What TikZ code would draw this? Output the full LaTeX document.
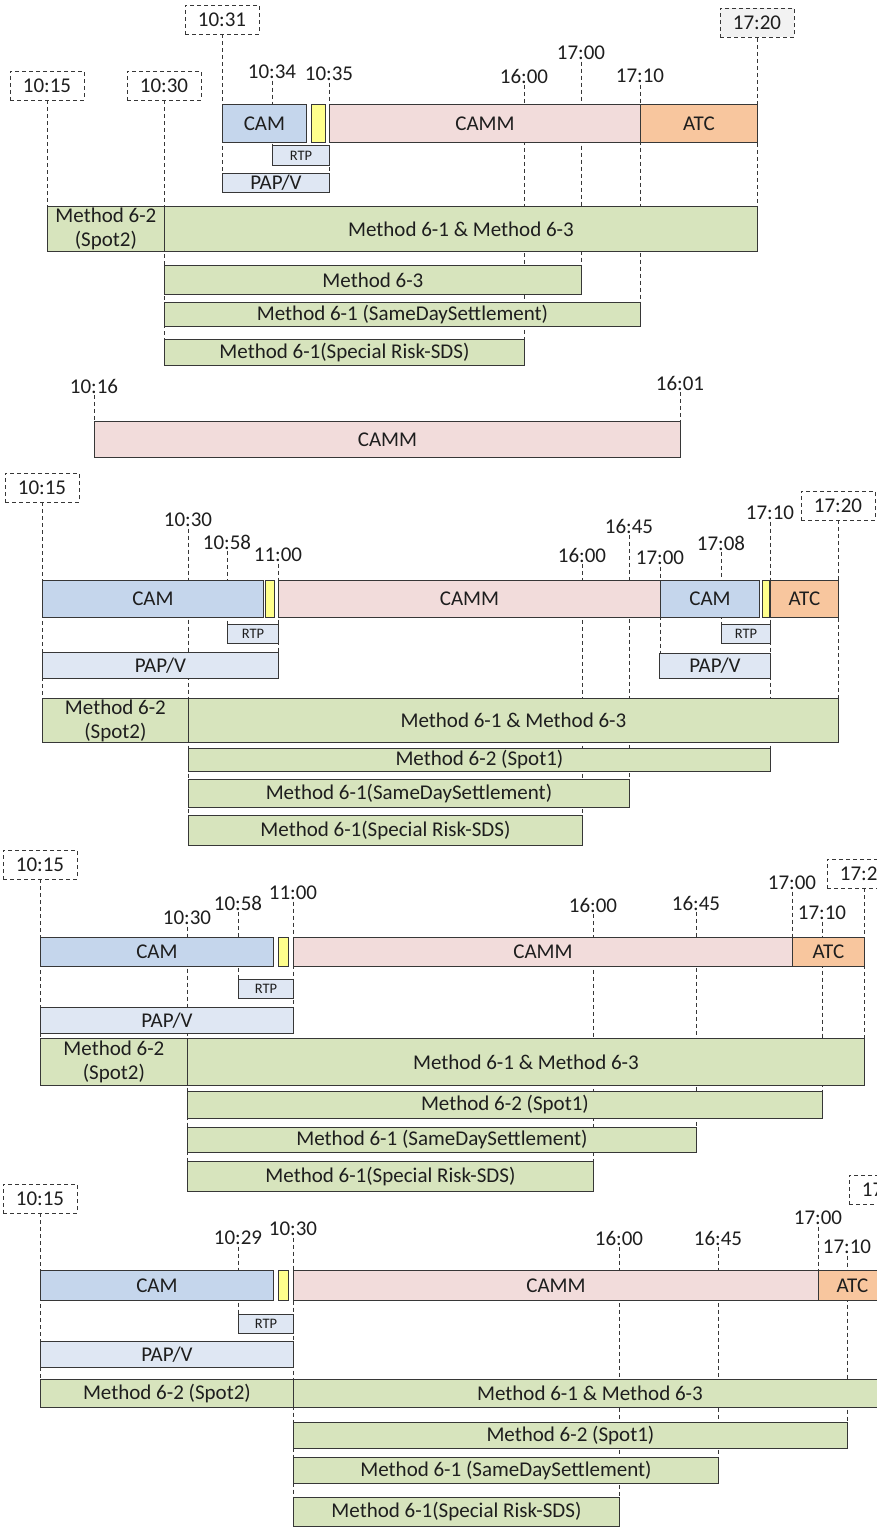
\documentclass[tikz,border=0pt]{standalone}
\usepackage{fontspec}
\setmainfont{Carlito}
\usetikzlibrary{positioning, backgrounds}

\definecolor{camblue}{RGB}{197, 214, 236}
\definecolor{cammpink}{RGB}{242, 220, 219}
\definecolor{atcorange}{RGB}{248, 198, 158}
\definecolor{gapyellow}{RGB}{255, 255, 140}
\definecolor{paplight}{RGB}{223, 231, 243}
\definecolor{methgreen}{RGB}{215, 228, 189}
\definecolor{edgegray}{RGB}{55, 55, 55}
\definecolor{txtgray}{RGB}{30, 30, 30}

\tikzset{
  blk/.style={draw=edgegray, line width=0.9pt, inner sep=0pt, anchor=north west,
    text=txtgray, font=\fontsize{21}{24}\selectfont, align=center},
  cambar/.style={blk, fill=camblue},
  cammbar/.style={blk, fill=cammpink},
  atcbar/.style={blk, fill=atcorange},
  ybox/.style={blk, fill=gapyellow},
  papbar/.style={blk, fill=paplight},
  rtpbar/.style={blk, fill=paplight, font=\fontsize{14.5}{16}\selectfont},
  metbar/.style={blk, fill=methgreen},
  tlbl/.style={text=txtgray, font=\fontsize{21}{24}\selectfont, inner sep=1.5pt},
  tbox/.style={draw=edgegray, dash pattern=on 4pt off 3pt, line width=0.8pt, inner sep=0pt,
    minimum width=74, minimum height=29, text=txtgray, font=\fontsize{21}{24}\selectfont},
  vline/.style={draw=edgegray, dash pattern=on 4pt off 3pt, line width=0.8pt},
}

\begin{document}
\begin{tikzpicture}[x=1pt, y=-1pt]
  \useasboundingbox (0,0) rectangle (877,1530);
  \clip (0,0) rectangle (877,1530);

  % Schedule 1
  \node[tbox] (b1015A) at (47,85.5) {10:15};
  \node[tbox] (b1030A) at (164,85.5) {10:30};
  \node[tbox] (b1031A) at (222,19.5) {10:31};
  \node[tbox, fill=black!5] (b1720A) at (757,23) {17:20};
  \node[tlbl] (l1034A) at (272,72) {10:34};
  \node[tlbl] (l1035A) at (329,74) {10:35};
  \node[tlbl] (l1600A) at (524,76) {16:00};
  \node[tlbl] (l1700A) at (581,53) {17:00};
  \node[tlbl] (l1710A) at (640,76) {17:10};

  \node[cambar, minimum width=84, minimum height=38] (camA) at (222,104) {CAM};
  \node[ybox, minimum width=14, minimum height=38] (ylwA) at (311,104) {};
  \node[cammbar, minimum width=311, minimum height=38] (cammA) at (329,104) {CAMM};
  \node[atcbar, minimum width=117, minimum height=38] (atcA) at (640,104) {ATC};
  \node[rtpbar, minimum width=57, minimum height=20] (rtpA) at (272,145) {RTP};
  \node[papbar, minimum width=107, minimum height=19] (papA) at (222,173) {PAP/V};
  \node[metbar, minimum width=117, minimum height=45] (spot2A) at (47,206) {Method 6-2\\(Spot2)};
  \node[metbar, minimum width=593, minimum height=45] (m613A) at (164,206) {Method 6-1 \& Method 6-3};
  \node[metbar, minimum width=417, minimum height=29] (m63A) at (164,265) {Method 6-3};
  \node[metbar, minimum width=476, minimum height=24] (sdsetA) at (164,302) {Method 6-1 (SameDaySettlement)};
  \node[metbar, minimum width=360, minimum height=26] (srA) at (164,339) {Method 6-1(Special Risk-SDS)};

  % CAMM on its own
  \node[tlbl] (l1016X) at (94,386) {10:16};
  \node[tlbl] (l1601X) at (680,383) {16:01};
  \node[cammbar, minimum width=586, minimum height=36] (cammX) at (94,421) {CAMM};

  % Schedule 2
  \node[tbox] (b1015B) at (42,487.5) {10:15};
  \node[tbox] (b1720B) at (838,505.5) {17:20};
  \node[tlbl] (l1030B) at (188,520) {10:30};
  \node[tlbl] (l1058B) at (227,542) {10:58};
  \node[tlbl] (l1100B) at (278,555) {11:00};
  \node[tlbl] (l1600B) at (582,555) {16:00};
  \node[tlbl] (l1645B) at (629,526) {16:45};
  \node[tlbl] (l1700B) at (660,558) {17:00};
  \node[tlbl] (l1708B) at (721,543) {17:08};
  \node[tlbl] (l1710B) at (770,513) {17:10};

  \node[cambar, minimum width=221, minimum height=37] (camB) at (42,580) {CAM};
  \node[ybox, minimum width=9, minimum height=37] (ylwB) at (265,580) {};
  \node[cammbar, minimum width=382, minimum height=37] (cammB) at (278,580) {CAMM};
  \node[cambar, minimum width=99, minimum height=37] (camBB) at (660,580) {CAM};
  \node[ybox, minimum width=7, minimum height=37] (ylwBB) at (762,580) {};
  \node[atcbar, minimum width=68, minimum height=37] (atcB) at (770,580) {ATC};
  \node[rtpbar, minimum width=51, minimum height=19] (rtpB) at (227,624) {RTP};
  \node[rtpbar, minimum width=49, minimum height=19] (rtpBB) at (721,624) {RTP};
  \node[papbar, minimum width=236, minimum height=26] (papB) at (42,652) {PAP/V};
  \node[papbar, minimum width=111, minimum height=25] (papBB) at (659,653) {PAP/V};
  \node[metbar, minimum width=146, minimum height=44] (spot2B) at (42,698) {Method 6-2\\(Spot2)};
  \node[metbar, minimum width=650, minimum height=44] (m613B) at (188,698) {Method 6-1 \& Method 6-3};
  \node[metbar, minimum width=582, minimum height=23] (spot1B) at (188,748) {Method 6-2 (Spot1)};
  \node[metbar, minimum width=441, minimum height=28] (sdsetB) at (188,779) {Method 6-1(SameDaySettlement)};
  \node[metbar, minimum width=394, minimum height=30] (srB) at (188,815) {Method 6-1(Special Risk-SDS)};

  % Schedule 3
  \node[tbox] (b1015C) at (40,864.5) {10:15};
  \node[tbox] (b1720C) at (864,873.5) {17:20};
  \node[tlbl] (l1030C) at (187,918) {10:30};
  \node[tlbl] (l1058C) at (238,903) {10:58};
  \node[tlbl] (l1100C) at (293,893) {11:00};
  \node[tlbl] (l1600C) at (593,905) {16:00};
  \node[tlbl] (l1645C) at (696,903) {16:45};
  \node[tlbl] (l1700C) at (792,883) {17:00};
  \node[tlbl] (l1710C) at (822,913) {17:10};

  \node[cambar, minimum width=233, minimum height=29] (camC) at (40,937) {CAM};
  \node[ybox, minimum width=10, minimum height=29] (ylwC) at (278,937) {};
  \node[cammbar, minimum width=499, minimum height=29] (cammC) at (293,937) {CAMM};
  \node[atcbar, minimum width=72, minimum height=29] (atcC) at (792,937) {ATC};
  \node[rtpbar, minimum width=55, minimum height=19] (rtpC) at (238,979) {RTP};
  \node[papbar, minimum width=253, minimum height=26] (papC) at (40,1007) {PAP/V};
  \node[metbar, minimum width=147, minimum height=47] (spot2C) at (40,1038) {Method 6-2\\(Spot2)};
  \node[metbar, minimum width=677, minimum height=47] (m613C) at (187,1038) {Method 6-1 \& Method 6-3};
  \node[metbar, minimum width=635, minimum height=27] (spot1C) at (187,1091) {Method 6-2 (Spot1)};
  \node[metbar, minimum width=509, minimum height=25] (sdsetC) at (187,1127) {Method 6-1 (SameDaySettlement)};
  \node[metbar, minimum width=406, minimum height=30] (srC) at (187,1161) {Method 6-1(Special Risk-SDS)};

  % Schedule 4
  \node[tbox] (b1015D) at (40,1198.5) {10:15};
  \node[tbox] (b1720D) at (886,1189.5) {17:20};
  \node[tlbl] (l1029D) at (238,1238) {10:29};
  \node[tlbl] (l1030D) at (293,1229) {10:30};
  \node[tlbl] (l1600D) at (619,1238) {16:00};
  \node[tlbl] (l1645D) at (718,1238) {16:45};
  \node[tlbl] (l1700D) at (818,1218) {17:00};
  \node[tlbl] (l1710D) at (847,1247) {17:10};

  \node[cambar, minimum width=233, minimum height=30] (camD) at (40,1270) {CAM};
  \node[ybox, minimum width=10, minimum height=30] (ylwD) at (278,1270) {};
  \node[cammbar, minimum width=525, minimum height=30] (cammD) at (293,1270) {CAMM};
  \node[atcbar, minimum width=68, minimum height=30] (atcD) at (818,1270) {ATC};
  \node[rtpbar, minimum width=55, minimum height=19] (rtpD) at (238,1314) {RTP};
  \node[papbar, minimum width=253, minimum height=26] (papD) at (40,1341) {PAP/V};
  \node[metbar, minimum width=253, minimum height=28] (spot2D) at (40,1379) {Method 6-2 (Spot2)};
  \node[metbar, minimum width=593, minimum height=28] (m613D) at (293,1379) {Method 6-1 \& Method 6-3};
  \node[metbar, minimum width=554, minimum height=26] (spot1D) at (293,1422) {Method 6-2 (Spot1)};
  \node[metbar, minimum width=425, minimum height=26] (sdsetD) at (293,1457) {Method 6-1 (SameDaySettlement)};
  \node[metbar, minimum width=326, minimum height=29] (srD) at (293,1497) {Method 6-1(Special Risk-SDS)};

  % time markers, behind the bars
  \begin{scope}[on background layer]
    \draw[vline] (b1015A.south) -- (b1015A.south |- spot2A.north);
    \draw[vline] (b1030A.south) -- (b1030A.south |- srA.north);
    \draw[vline] (b1031A.south) -- (b1031A.south |- papA.north);
    \draw[vline] (b1720A.south) -- (b1720A.south |- m613A.north);
    \draw[vline] (l1034A.south) -- (l1034A.south |- rtpA.north);
    \draw[vline] (l1035A.south) -- (l1035A.south |- papA.north);
    \draw[vline] (l1600A.south) -- (l1600A.south |- srA.north);
    \draw[vline] (l1700A.south) -- (l1700A.south |- m63A.north);
    \draw[vline] (l1710A.south) -- (l1710A.south |- sdsetA.north);
    \draw[vline] (l1016X.south) -- (l1016X.south |- cammX.north);
    \draw[vline] (l1601X.south) -- (l1601X.south |- cammX.north);

    \draw[vline] (b1015B.south) -- (b1015B.south |- spot2B.north);
    \draw[vline] (b1720B.south) -- (b1720B.south |- m613B.north);
    \draw[vline] (l1030B.south) -- (l1030B.south |- srB.north);
    \draw[vline] (l1058B.south) -- (l1058B.south |- rtpB.north);
    \draw[vline] (l1100B.south) -- (l1100B.south |- papB.north);
    \draw[vline] (l1600B.south) -- (l1600B.south |- srB.north);
    \draw[vline] (l1645B.south) -- (l1645B.south |- sdsetB.north);
    \draw[vline] (l1700B.south) -- (l1700B.south |- papBB.north);
    \draw[vline] (l1708B.south) -- (l1708B.south |- rtpBB.north);
    \draw[vline] (l1710B.south) -- (l1710B.south |- spot1B.north);

    \draw[vline] (b1015C.south) -- (b1015C.south |- spot2C.north);
    \draw[vline] (b1720C.south) -- (b1720C.south |- m613C.north);
    \draw[vline] (l1030C.south) -- (l1030C.south |- srC.north);
    \draw[vline] (l1058C.south) -- (l1058C.south |- rtpC.north);
    \draw[vline] (l1100C.south) -- (l1100C.south |- papC.north);
    \draw[vline] (l1600C.south) -- (l1600C.south |- srC.north);
    \draw[vline] (l1645C.south) -- (l1645C.south |- sdsetC.north);
    \draw[vline] (l1700C.south) -- (l1700C.south |- atcC.north);
    \draw[vline] (l1710C.south) -- (l1710C.south |- spot1C.north);

    \draw[vline] (b1015D.south) -- (b1015D.south |- spot2D.north);
    \draw[vline] (l1029D.south) -- (l1029D.south |- rtpD.north);
    \draw[vline] (l1030D.south) -- (l1030D.south |- srD.north);
    \draw[vline] (l1600D.south) -- (l1600D.south |- srD.north);
    \draw[vline] (l1645D.south) -- (l1645D.south |- sdsetD.north);
    \draw[vline] (l1700D.south) -- (l1700D.south |- cammD.north);
    \draw[vline] (l1710D.south) -- (l1710D.south |- spot1D.north);
  \end{scope}
\end{tikzpicture}
\end{document}
